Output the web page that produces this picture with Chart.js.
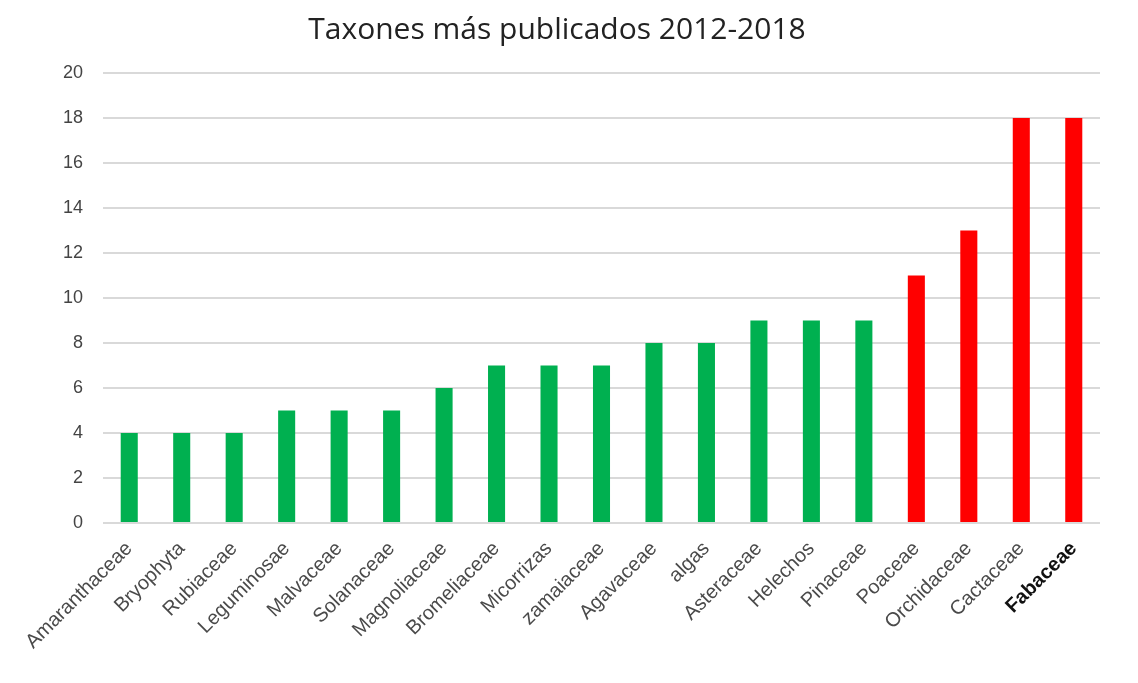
<!DOCTYPE html>
<html>
<head>
<meta charset="utf-8">
<title>Taxones más publicados 2012-2018</title>
<script src="https://cdn.jsdelivr.net/npm/chart.js@4.4.1/dist/chart.umd.min.js"></script>
<style>
  html, body { margin: 0; padding: 0; background: #fff; }
  #wrap { width: 1138px; height: 683px; }
</style>
</head>
<body>
<div id="wrap"><canvas id="taxaChart"></canvas></div>
<script>
const taxa = ["Amaranthaceae", "Bryophyta", "Rubiaceae", "Leguminosae", "Malvaceae", "Solanaceae",
  "Magnoliaceae", "Bromeliaceae", "Micorrizas", "zamaiaceae", "Agavaceae", "algas", "Asteraceae",
  "Helechos", "Pinaceae", "Poaceae", "Orchidaceae", "Cactaceae", "Fabaceae"];
const publicaciones = [4, 4, 4, 5, 5, 5, 6, 7, 7, 7, 8, 8, 9, 9, 9, 11, 13, 18, 18];
const yTicks = [0, 2, 4, 6, 8, 10, 12, 14, 16, 18, 20];

// top four taxa are highlighted in red
const barColors = publicaciones.map(v => v > 10 ? "#ff0000" : "#00b050");

const ctx = document.getElementById("taxaChart").getContext("2d");
new Chart(ctx, {
  type: "bar",
  data: {
    labels: taxa,
    datasets: [{
      data: publicaciones,
      backgroundColor: barColors,
      borderWidth: 0,
      barPercentage: 0.65,
      categoryPercentage: 0.5
    }]
  },
  options: {
    responsive: true,
    maintainAspectRatio: false,
    animation: false,
    layout: { padding: { top: 8, left: 14, right: 38, bottom: 0 } },
    plugins: {
      legend: { display: false },
      tooltip: { enabled: false },
      title: {
        display: true,
        text: "Taxones más publicados 2012-2018",
        color: "#222",
        font: { family: "'Open Sans'", size: 30, weight: "normal" },
        padding: { top: 4, bottom: 25 }
      }
    },
    scales: {
      x: {
        grid: { display: false, drawTicks: false },
        border: { display: false },
        ticks: {
          autoSkip: false,
          minRotation: 45,
          maxRotation: 45,
          padding: 14,
          color: ctx => ctx.index === taxa.length - 1 ? "#111" : "#4a4a4a",
          font: ctx => ({
            family: "'Liberation Sans', Arial",
            size: 20,
            weight: ctx.index === taxa.length - 1 ? "bold" : "normal"
          })
        },
        afterFit: scale => { scale.height = 160; }
      },
      y: {
        min: 0,
        max: 20,
        afterBuildTicks: scale => { scale.ticks = yTicks.map(v => ({ value: v })); },
        grid: { color: "#d9d9d9", lineWidth: 2, drawTicks: false },
        border: { display: false },
        ticks: {
          padding: 20,
          color: "#444",
          font: { family: "'Liberation Sans', Arial", size: 18 }
        },
        afterFit: scale => { scale.width = 89; }
      }
    }
  }
});
</script>
</body>
</html>
